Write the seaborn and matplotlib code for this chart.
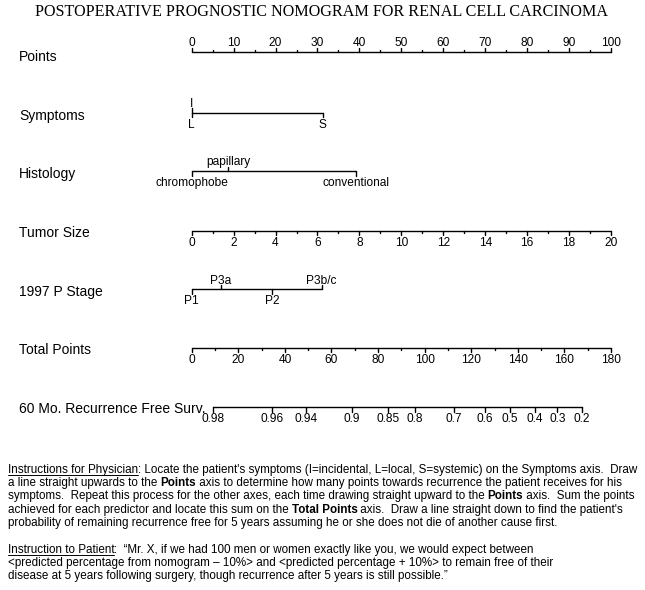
import matplotlib
matplotlib.use("Agg")
import matplotlib.pyplot as plt
import numpy as np
import pandas as pd
import seaborn as sns

# ── data ────────────────────────────────────────────────────────────────────
POINTS_TICKS = list(range(0, 101, 10))
POINTS_MINOR = list(range(5, 100, 10))

SYMPTOM_LEVELS = ["I", "L", "S"]
SYMPTOM_POINTS = [0, 0, 31.2]

HISTOLOGY_LEVELS = ["chromophobe", "papillary", "conventional"]
HISTOLOGY_POINTS = [0, 8.7, 39.2]

TUMOR_SIZE_TICKS = list(range(0, 21, 2))
TUMOR_SIZE_MINOR = list(range(1, 20, 2))
TUMOR_POINTS_PER_CM = 5.0

PSTAGE_LEVELS = ["P1", "P3a", "P2", "P3b/c"]
PSTAGE_POINTS = [0, 7.0, 19.2, 31.0]

TOTAL_TICKS = list(range(0, 181, 20))
TOTAL_MINOR = list(range(10, 180, 20))
TOTAL_MAX = 180.0

SURV_LABELS = ["0.98", "0.96", "0.94", "0.9", "0.85", "0.8",
               "0.7", "0.6", "0.5", "0.4", "0.3", "0.2"]
SURV_TOTAL_POINTS = [9.3, 34.6, 49.1, 68.9, 84.4, 95.9,
                     112.7, 125.9, 136.6, 147.4, 157.0, 167.4]

TITLE = "POSTOPERATIVE PROGNOSTIC NOMOGRAM FOR RENAL CELL CARCINOMA"

PHYSICIAN_LINES = [
    [("Instructions for Physician", "u"), (": Locate the patient's symptoms (I=incidental, L=local, S=systemic) on the Symptoms axis.  Draw", "")],
    [("a line straight upwards to the ", ""), ("Points", "b"), (" axis to determine how many points towards recurrence the patient receives for his", "")],
    [("symptoms.  Repeat this process for the other axes, each time drawing straight upward to the ", ""), ("Points", "b"), (" axis.  Sum the points", "")],
    [("achieved for each predictor and locate this sum on the ", ""), ("Total Points", "b"), (" axis.  Draw a line straight down to find the patient's", "")],
    [("probability of remaining recurrence free for 5 years assuming he or she does not die of another cause first.", "")],
]
PATIENT_LINES = [
    [("Instruction to Patient", "u"), (":  \u201cMr. X, if we had 100 men or women exactly like you, we would expect between", "")],
    [("<predicted percentage from nomogram \u2013 10%> and <predicted percentage + 10%> to remain free of their", "")],
    [("disease at 5 years following surgery, though recurrence after 5 years is still possible.\u201d", "")],
]

# ── layout (pixels) ─────────────────────────────────────────────────────────
X0_PX, PX_PER_POINT = 191.7, 4.193
W, H = 645, 590


def px2x(px):
    return (px - X0_PX) / PX_PER_POINT


sns.set_theme(style="white")
plt.rcParams["font.family"] = ["Liberation Sans", "DejaVu Sans"]

fig = plt.figure(figsize=(W / 100, H / 100), dpi=100)
ax = fig.add_axes([0, 0, 1, 1])
ax.set_xlim(px2x(0), px2x(W))
ax.set_ylim(H, 0)
ax.axis("off")

LABEL_FS = 10
TICK_FS = 8.6
MAJ, MIN = 4.5, 2.5
LW = 1.0

rows = []      # axis line segments for seaborn
ticks = []     # (x, y, side, length)
labels = []    # (x, y, text)


def add_axis(name, y, xs, texts, sides, minor=(), minor_side="up"):
    rows.append(pd.DataFrame({"x": [min(xs), max(xs)], "y": [y, y], "axis": name}))
    for x, t, s in zip(xs, texts, sides):
        ticks.append((x, y, s, MAJ))
        off = -8.5 if s == "up" else 12
        labels.append((x, y + off, t))
    for x in minor:
        ticks.append((x, y, minor_side, MIN))


add_axis("points", 52, POINTS_TICKS, [str(v) for v in POINTS_TICKS],
         ["up"] * len(POINTS_TICKS), POINTS_MINOR, "up")
add_axis("symptoms", 112.7, SYMPTOM_POINTS, SYMPTOM_LEVELS, ["up", "down", "down"])
add_axis("histology", 171, HISTOLOGY_POINTS, HISTOLOGY_LEVELS, ["down", "up", "down"])
add_axis("tumor", 230.7, [v * TUMOR_POINTS_PER_CM for v in TUMOR_SIZE_TICKS],
         [str(v) for v in TUMOR_SIZE_TICKS], ["down"] * len(TUMOR_SIZE_TICKS),
         [v * TUMOR_POINTS_PER_CM for v in TUMOR_SIZE_MINOR], "down")
add_axis("pstage", 289.3, PSTAGE_POINTS, PSTAGE_LEVELS, ["down", "up", "down", "up"])
add_axis("total", 347.7, [v * 100 / TOTAL_MAX for v in TOTAL_TICKS],
         [str(v) for v in TOTAL_TICKS], ["down"] * len(TOTAL_TICKS),
         [v * 100 / TOTAL_MAX for v in TOTAL_MINOR], "down")
add_axis("surv", 407.3, [v * 100 / TOTAL_MAX for v in SURV_TOTAL_POINTS],
         SURV_LABELS, ["down"] * len(SURV_LABELS))

lines_df = pd.concat(rows, ignore_index=True)
sns.lineplot(data=lines_df, x="x", y="y", units="axis", estimator=None,
             sort=False, color="black", linewidth=LW, ax=ax, legend=False)

for x, y, side, ln in ticks:
    y2 = y - ln if side == "up" else y + ln
    ax.plot([x, x], [y, y2], color="black", linewidth=LW)

for x, y, t in labels:
    ax.text(x, y, t, fontsize=TICK_FS, ha="center", va="center", color="black")

ROW_LABELS = ["Points", "Symptoms", "Histology", "Tumor Size", "1997 P Stage",
              "Total Points", "60 Mo. Recurrence Free Surv."]
ROW_LABEL_Y = [56.7, 116, 174, 233, 291.7, 350, 409]
for t, y in zip(ROW_LABELS, ROW_LABEL_Y):
    ax.text(px2x(19.3), y, t, fontsize=LABEL_FS, ha="left", va="center", color="black")

ax.text(px2x(321.5), 12, TITLE, fontsize=11.6, ha="center", va="center",
        family=["Liberation Serif", "DejaVu Serif"], color="black")

# ── instruction text, drawn segment by segment ──────────────────────────────
renderer = fig.canvas.get_renderer()
TEXT_FS = 8.4


def draw_line(segments, y_base, x_px=7.5):
    cur = x_px
    for s, style in segments:
        t = ax.text(px2x(cur), y_base, s, fontsize=TEXT_FS, ha="left", va="baseline",
                    fontweight="bold" if style == "b" else "normal", color="black")
        w = t.get_window_extent(renderer).width
        if style == "u":
            ax.plot([px2x(cur), px2x(cur + w)], [y_base + 1.6, y_base + 1.6],
                    color="black", linewidth=0.7)
        cur += w


for i, seg in enumerate(PHYSICIAN_LINES):
    draw_line(seg, 473 + i * 13.2)
for i, seg in enumerate(PATIENT_LINES):
    draw_line(seg, 553 + i * 13.2)

fig.savefig("out.png", dpi=100, facecolor="white")
